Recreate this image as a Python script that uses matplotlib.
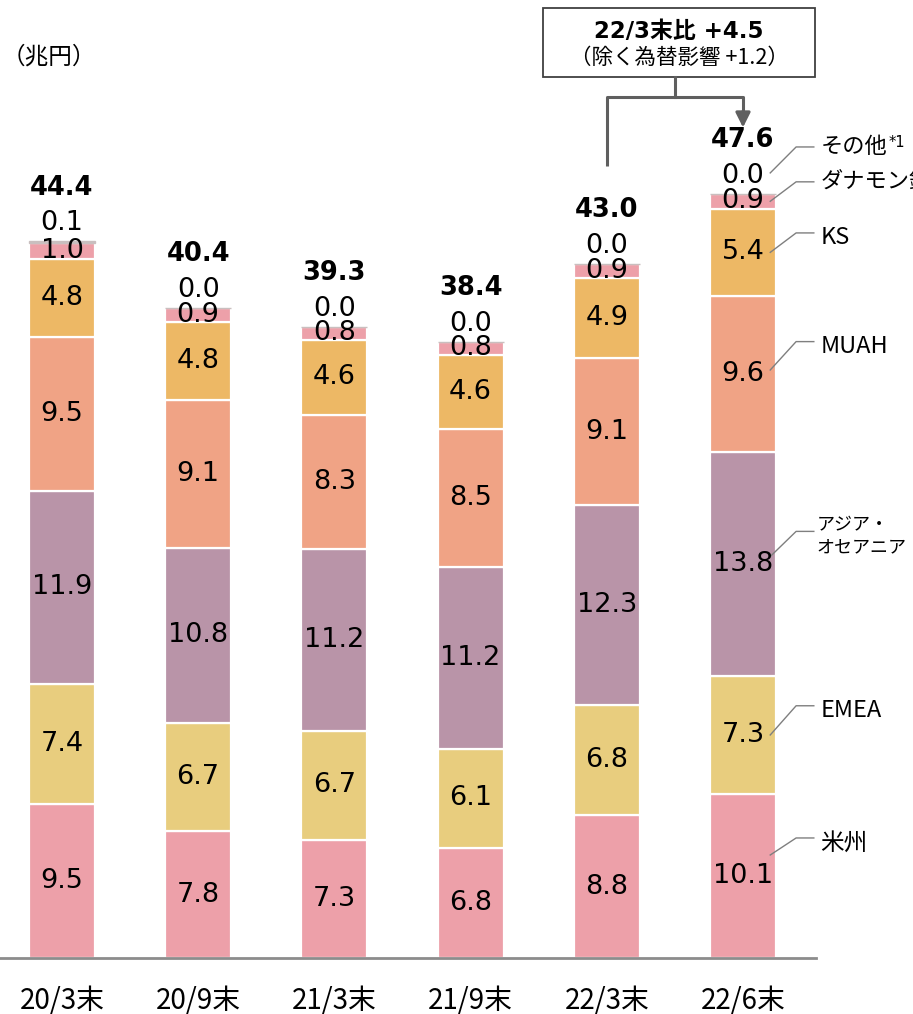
import numpy as np
import matplotlib.pyplot as plt
from matplotlib.patches import Rectangle

plt.rcParams['font.family'] = ['DejaVu Sans', 'Noto Sans CJK JP']

periods = ['20/3末', '20/9末', '21/3末', '21/9末', '22/3末', '22/6末']
regions = ['米州', 'EMEA', 'アジア・\nオセアニア', 'MUAH', 'KS', 'ダナモン銀行', 'その他']
beikoku = [9.5, 7.8, 7.3, 6.8, 8.8, 10.1]
emea = [7.4, 6.7, 6.7, 6.1, 6.8, 7.3]
asia = [11.9, 10.8, 11.2, 11.2, 12.3, 13.8]
muah = [9.5, 9.1, 8.3, 8.5, 9.1, 9.6]
ks = [4.8, 4.8, 4.6, 4.6, 4.9, 5.4]
danamon = [1.0, 0.9, 0.8, 0.8, 0.9, 0.9]
sonota = [0.1, 0.0, 0.0, 0.0, 0.0, 0.0]
totals = [44.4, 40.4, 39.3, 38.4, 43.0, 47.6]

series = [beikoku, emea, asia, muah, ks, danamon, sonota]
colors = ['#EDA0A9', '#E8CD7E', '#B994A8', '#F0A385', '#EDB865', '#EDA0A9', '#C9BFBF']

fig = plt.figure(figsize=(9.13, 10.14), dpi=100)
ax = fig.add_axes([0, 56 / 1014, 816 / 913, 958 / 1014])
ax.set_xlim(-0.455, 5.536)
ax.set_ylim(0, 59.06)

x = np.arange(len(periods))
w = 0.485
bottom = np.zeros(len(periods))
for i, (vals, c) in enumerate(zip(series, colors)):
    vals = np.array(vals)
    if i == len(series) - 1:
        ax.bar(x, vals, w, bottom=bottom, color=c, edgecolor=c, linewidth=1)
    else:
        ax.bar(x, vals, w, bottom=bottom, color=c, edgecolor='white', linewidth=1.6)
    for j in range(len(x)):
        if i == len(series) - 1:
            yy = bottom[j] + vals[j] + 1.1
        else:
            yy = bottom[j] + vals[j] / 2
        ax.text(x[j], yy, f'{vals[j]:.1f}', ha='center', va='center', fontsize=19.5)
    bottom = bottom + vals

tops = bottom
for j in range(len(x)):
    ax.text(x[j], tops[j] + 3.3, f'{totals[j]:.1f}', ha='center', va='center',
            fontsize=18.5, fontweight='bold')

# axis styling
for s in ['top', 'right', 'left']:
    ax.spines[s].set_visible(False)
ax.spines['bottom'].set_color('#8C8C8C')
ax.spines['bottom'].set_linewidth(2)
ax.set_yticks([])
ax.set_xticks(x)
ax.set_xticklabels(periods, fontsize=20, family=['Noto Sans CJK JP'])
ax.tick_params(axis='x', length=0, pad=20)

fig.text(2 / 913, 1 - 57 / 1014, '（兆円）', fontsize=17, va='center', ha='left',
         family=['Noto Sans CJK JP'])

# leader lines for the last bar
last = len(x) - 1
seg_bottom = 0.0
starts = [1.3, 0.0, 0.45, 0.25, 0.0, 0.0, 1.3]
rises = [1.05, 1.8, 1.55, 1.75, 1.2, 1.2, 1.6]
label_sizes = [17, 17, 13, 17, 17, 16, 16]
xs = x[last] + 0.2
for i, vals in enumerate(series):
    v = vals[last]
    if i == len(series) - 1:
        y0 = seg_bottom + v + starts[i]
    else:
        y0 = seg_bottom + v / 2 + starts[i]
    y1 = y0 + rises[i]
    ax.plot([xs, xs + 0.19, xs + 0.32], [y0, y1, y1], color='#7F7F7F', lw=1,
            clip_on=False)
    tx = xs + 0.34 if i == 2 else xs + 0.37
    ty = y1 if i >= 5 else y1 - 0.3
    ax.text(tx, ty, regions[i], ha='left', va='center',
            fontsize=label_sizes[i],
            family=['Noto Sans CJK JP', 'DejaVu Sans'], clip_on=False,
            linespacing=1.35)
    if i == len(series) - 1:
        ax.text(xs + 0.87, y1 + 0.3, '*1', ha='left', va='center', fontsize=10.5,
                clip_on=False)
    seg_bottom += v

# comparison box
ax.add_patch(Rectangle((3.53, 54.3), 2.0, 4.27, facecolor='white', edgecolor='#404040',
                       lw=1.3, clip_on=False))
ax.text(4.53, 57.1, '22/3末比 +4.5', ha='center', va='center', fontsize=16.5,
        fontweight='bold', family=['DejaVu Sans', 'Noto Sans CJK JP'])
ax.text(4.53, 55.5, '（除く為替影響 +1.2）', ha='center', va='center', fontsize=15.5,
        family=['Noto Sans CJK JP'])
gc = '#5F5F5F'
ax.plot([4.5, 4.5], [54.3, 53.1], color=gc, lw=2.2, clip_on=False)
ax.plot([x[4], x[4], x[5], x[5]], [48.8, 53.1, 53.1, 52.0], color=gc, lw=2.2,
        clip_on=False, solid_capstyle='butt')
ax.annotate('', xy=(x[5], 51.2), xytext=(x[5], 52.2),
            arrowprops=dict(arrowstyle='-|>', color=gc, lw=2.2,
                            mutation_scale=22, shrinkA=0, shrinkB=0))

fig.savefig('out.png', dpi=100)
